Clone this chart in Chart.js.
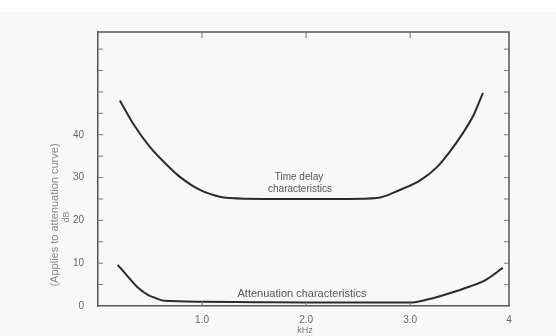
<!DOCTYPE html>
<html>
<head>
<meta charset="utf-8">
<script src="https://cdn.jsdelivr.net/npm/chart.js@4/dist/chart.umd.min.js"></script>
<style>
html,body{margin:0;padding:0;background:#fff;}
canvas{display:block;}
</style>
</head>
<body>
<canvas id="c" width="556" height="336"></canvas>
<script>
// ---- data ----
const delayKHz = [0.21, 0.34, 0.50, 0.66, 0.79, 0.98, 1.17, 1.27, 1.60, 2.00, 2.40, 2.68, 2.90, 3.10, 3.26, 3.38, 3.51, 3.61, 3.70];
const delayDB  = [48.0, 42.5, 37.1, 33.0, 30.1, 27.1, 25.5, 25.2, 25.0, 25.0, 25.0, 25.2, 27.1, 29.4, 32.5, 36.0, 40.5, 44.6, 49.8];

const attenKHz = [0.19, 0.29, 0.38, 0.48, 0.55, 0.64, 1.00, 1.50, 2.00, 2.50, 3.00, 3.13, 3.26, 3.41, 3.58, 3.74, 3.89];
const attenDB  = [9.6, 6.8, 4.4, 2.6, 1.9, 1.2, 1.0, 0.9, 0.8, 0.8, 0.8, 1.3, 2.1, 3.2, 4.6, 6.3, 8.9];

const xTickValues = [1, 2, 3, 3.95];
const xTickLabels = ['1.0', '2.0', '3.0', '4'];
const yTickValues = [0, 5, 10, 15, 20, 25, 30, 35, 40, 45, 50, 55, 60];
const yTickLabels = ['0', '', '10', '', '20', '', '30', '', '40', '', '', '', ''];

const xTitle = 'kHz';
const yTitleLines = ['(Applies to attenuation curve)', 'dB'];
const delayLabel = ['Time delay', 'characteristics'];
const attenLabel = 'Attenuation characteristics';

const toPts = (xs, ys) => xs.map((x, i) => ({x: x, y: ys[i]}));

const frameColor = '#555';
const textColor = '#666';
const fontFam = '"Liberation Sans", Arial, sans-serif';

const decor = {
  id: 'decor',
  beforeDraw(chart) {
    const ctx = chart.ctx;
    ctx.save();
    ctx.fillStyle = '#ffffff';
    ctx.fillRect(0, 0, chart.width, chart.height);
    ctx.fillStyle = '#f8f8f8';
    ctx.fillRect(0, 12, chart.width, chart.height - 12);
    ctx.restore();
  },
  afterDraw(chart) {
    const ctx = chart.ctx;
    const a = chart.chartArea;
    const xs = chart.scales.x, ys = chart.scales.y;
    ctx.save();
    ctx.strokeStyle = frameColor;
    ctx.lineWidth = 1.5;
    ctx.beginPath();
    ctx.moveTo(a.left, a.top);
    ctx.lineTo(a.right, a.top);
    ctx.lineTo(a.right, a.bottom);
    ctx.stroke();
    ctx.lineWidth = 1;
    ctx.strokeStyle = '#777';
    ctx.beginPath();
    yTickValues.forEach(v => {
      if (v === 0) return;
      const py = ys.getPixelForValue(v);
      ctx.moveTo(a.left, py); ctx.lineTo(a.left + 5, py);
      ctx.moveTo(a.right, py); ctx.lineTo(a.right - 5, py);
    });
    [1, 2, 3].forEach(v => {
      const px = xs.getPixelForValue(v);
      ctx.moveTo(px, a.bottom); ctx.lineTo(px, a.bottom - 5);
      ctx.moveTo(px, a.top); ctx.lineTo(px, a.top + 6);
    });
    ctx.stroke();

    ctx.fillStyle = '#555';
    ctx.textAlign = 'center';
    ctx.textBaseline = 'middle';
    ctx.font = '10px ' + fontFam;
    ctx.fillText(delayLabel[0], 299, 177);
    ctx.fillText(delayLabel[1], 300, 189);
    ctx.font = '11px ' + fontFam;
    ctx.fillText(attenLabel, 302, 294);
    ctx.fillStyle = '#777';
    ctx.font = '9px ' + fontFam;
    ctx.fillText(xTitle, 305, 331);
    ctx.fillStyle = '#888';
    ctx.font = '11px ' + fontFam;
    ctx.save();
    ctx.translate(55, 215);
    ctx.rotate(-Math.PI / 2);
    ctx.fillText(yTitleLines[0], 0, 0);
    ctx.restore();
    ctx.font = '9px ' + fontFam;
    ctx.save();
    ctx.translate(67, 217);
    ctx.rotate(-Math.PI / 2);
    ctx.fillText(yTitleLines[1], 0, 0);
    ctx.restore();
    ctx.restore();
  }
};

new Chart(document.getElementById('c'), {
  type: 'line',
  data: {
    datasets: [
      {
        label: 'Time delay characteristics',
        data: toPts(delayKHz, delayDB),
        borderColor: '#2b2b2b',
        borderWidth: 2,
        pointRadius: 0,
        cubicInterpolationMode: 'monotone',
        fill: false
      },
      {
        label: 'Attenuation characteristics',
        data: toPts(attenKHz, attenDB),
        borderColor: '#2b2b2b',
        borderWidth: 2,
        pointRadius: 0,
        cubicInterpolationMode: 'monotone',
        fill: false
      }
    ]
  },
  options: {
    responsive: false,
    animation: false,
    layout: { padding: { left: 0, right: 47, top: 32, bottom: 0 } },
    plugins: { legend: { display: false }, tooltip: { enabled: false } },
    scales: {
      x: {
        type: 'linear',
        min: 0,
        max: 3.95,
        afterFit: s => { s.height = 30; },
        afterBuildTicks: s => { s.ticks = xTickValues.map(v => ({ value: v })); },
        grid: { display: false },
        border: { display: true, color: frameColor, width: 1.5 },
        ticks: {
          padding: 0,
          color: textColor,
          font: { family: fontFam, size: 10 },
          maxRotation: 0,
          autoSkip: false,
          callback: (v) => { const i = xTickValues.indexOf(v); return i >= 0 ? xTickLabels[i] : ''; }
        }
      },
      y: {
        type: 'linear',
        min: 0,
        max: 64,
        afterFit: s => { s.width = 98; },
        afterBuildTicks: s => { s.ticks = yTickValues.map(v => ({ value: v })); },
        grid: { display: false },
        border: { display: true, color: frameColor, width: 1.5 },
        ticks: {
          padding: 6,
          color: textColor,
          font: { family: fontFam, size: 10 },
          autoSkip: false,
          callback: (v) => { const i = yTickValues.indexOf(v); return i >= 0 ? yTickLabels[i] : ''; }
        }
      }
    }
  },
  plugins: [decor]
});
</script>
</body>
</html>
